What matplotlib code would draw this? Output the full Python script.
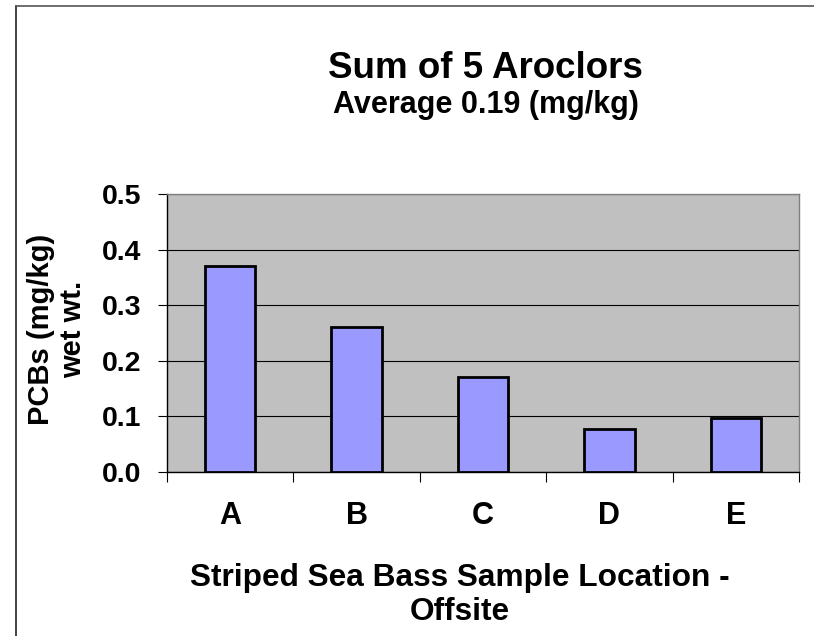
import matplotlib
matplotlib.use("Agg")
import matplotlib.pyplot as plt
from matplotlib.lines import Line2D
from matplotlib.ticker import FixedLocator, FormatStrFormatter

# Sample data
locations = ["A", "B", "C", "D", "E"]
pcb_values = [0.37, 0.26, 0.17, 0.077, 0.098]
y_ticks = [0.0, 0.1, 0.2, 0.3, 0.4, 0.5]

title_text = "Sum of 5 Aroclors"
subtitle_text = "Average 0.19 (mg/kg)"
x_label = "Striped Sea Bass Sample Location -\nOffsite"
y_label = "PCBs (mg/kg)\nwet wt."

plt.rcParams["font.family"] = ["Liberation Sans", "DejaVu Sans"]
plt.rcParams["font.weight"] = "bold"

W, H = 814, 636
fig = plt.figure(figsize=(W / 100, H / 100), dpi=100)

# Plot area in pixel coordinates
left, right, top, bottom = 167, 799, 194, 472
ax = fig.add_axes([left / W, 1 - bottom / H, (right - left) / W, (bottom - top) / H])
ax.set_facecolor("#C0C0C0")

xs = list(range(len(locations)))
ax.bar(xs, pcb_values, width=0.4, color="#9999FF", edgecolor="black",
       linewidth=2.0, zorder=3)

ax.set_xlim(-0.5, len(locations) - 0.5)
ax.set_ylim(0, 0.5)

# Y axis
ax.yaxis.set_major_locator(FixedLocator(y_ticks))
ax.yaxis.set_major_formatter(FormatStrFormatter("%.1f"))
ax.tick_params(axis="y", which="major", direction="out", length=6.5,
               width=0.8, color="black", pad=12, labelsize=20.5)
ax.grid(axis="y", color="black", linewidth=0.8, zorder=1)

# X axis: boundary tick marks as minor ticks, labels at category centers
ax.set_xticks(xs)
ax.set_xticklabels(locations)
ax.xaxis.set_minor_locator(FixedLocator([i - 0.5 for i in range(len(locations) + 1)]))
ax.tick_params(axis="x", which="major", length=0, pad=21, labelsize=22)
ax.tick_params(axis="x", which="minor", direction="out", length=7,
               width=0.8, color="black")
for lbl in ax.get_xticklabels() + ax.get_yticklabels():
    lbl.set_fontweight("bold")

for side in ("top", "right"):
    ax.spines[side].set_color("#808080")
    ax.spines[side].set_linewidth(1.0)
for side in ("left", "bottom"):
    ax.spines[side].set_color("black")
    ax.spines[side].set_linewidth(1.0)
ax.set_axisbelow(True)

# Titles and axis labels
fig.text(485 / W, 1 - 68 / H, title_text, ha="center", va="center",
         fontsize=26.5, fontweight="bold")
fig.text(486 / W, 1 - 105 / H, subtitle_text, ha="center", va="center",
         fontsize=22, fontweight="bold")
fig.text(460 / W, 1 - 595 / H, x_label, ha="center", va="center",
         fontsize=22.8, fontweight="bold", linespacing=1.15)
fig.text(57 / W, 1 - 329 / H, y_label, ha="center", va="center",
         rotation=90, fontsize=21, fontweight="bold", linespacing=1.2)

# Chart frame along the left and top edges
fig.add_artist(Line2D([16 / W, 16 / W], [0, 1 - 6 / H], transform=fig.transFigure,
                      color="#222222", linewidth=1.2))
fig.add_artist(Line2D([16 / W, 1], [1 - 6 / H, 1 - 6 / H], transform=fig.transFigure,
                      color="#555555", linewidth=1.2))

fig.savefig("out.png", dpi=100)
